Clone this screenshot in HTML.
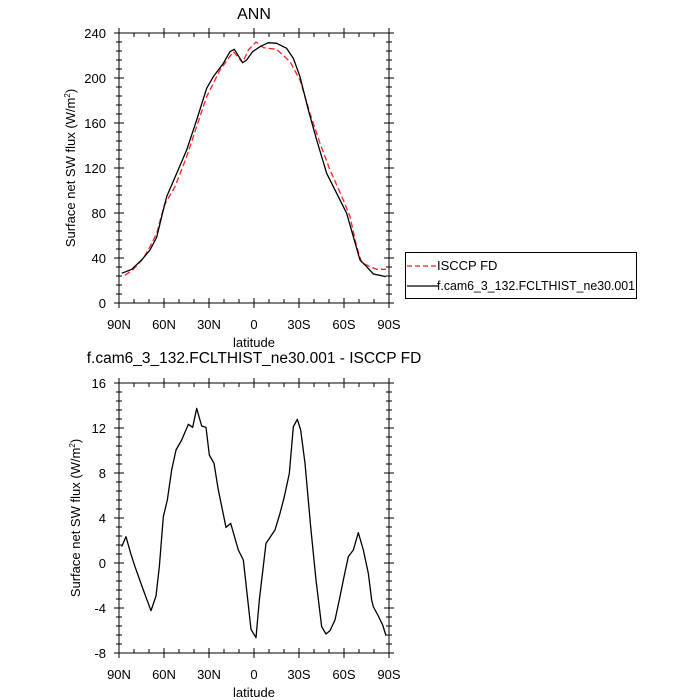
<!DOCTYPE html>
<html><head><meta charset="utf-8"><style>
html,body{margin:0;padding:0;background:#fff}
svg{display:block;font-family:"Liberation Sans",sans-serif}
</style></head><body>
<svg width="700" height="700" viewBox="0 0 700 700" xmlns="http://www.w3.org/2000/svg">
<rect width="700" height="700" fill="#fff"/>
<!-- TOP PLOT -->
<text x="254" y="19" font-size="16" text-anchor="middle">ANN</text>
<g transform="translate(60,0) scale(0.33333)" fill="none" stroke-linejoin="round">
<polyline vector-effect="non-scaling-stroke" stroke="#ff2020" stroke-width="1.3" stroke-dasharray="6,3" points="195,826 220,808 250,775 270,740 290,700 313,615 345,560 380,470 410,380 440,290 480,210 520,155 548,188 565,150 588,126 610,143 650,148 690,185 720,240 750,340 780,430 810,510 850,600 870,650 890,740 905,788 930,800 950,808 978,808"/>
<polyline vector-effect="non-scaling-stroke" stroke="#000" stroke-width="1.3" points="185,820 215,808 245,780 270,750 290,712 305,650 320,590 350,520 380,450 410,360 440,265 460,230 490,190 510,155 523,148 548,188 560,180 578,155 600,140 625,128 650,130 680,145 700,175 720,230 745,330 770,420 800,520 830,580 860,640 880,710 900,780 920,800 940,822 978,830"/>
</g>
<rect x="119" y="33" width="270" height="270" fill="none" stroke="#000" stroke-width="1"/>
<g font-size="13" text-anchor="middle">
<text x="119" y="329">90N</text><text x="164" y="329">60N</text><text x="209" y="329">30N</text><text x="254" y="329">0</text><text x="299" y="329">30S</text><text x="344" y="329">60S</text><text x="389" y="329">90S</text>
<text x="254" y="347">latitude</text>
</g>
<g font-size="13" text-anchor="end">
<text x="106" y="38">240</text><text x="106" y="83">200</text><text x="106" y="128">160</text><text x="106" y="173">120</text><text x="106" y="218">80</text><text x="106" y="263">40</text><text x="106" y="308">0</text>
</g>
<text transform="translate(75,168) rotate(-90)" font-size="13" text-anchor="middle">Surface net SW flux (W/m<tspan font-size="8" dy="-5">2</tspan><tspan dy="5">)</tspan></text>
<!-- legend -->
<rect x="405.5" y="252.5" width="231" height="46" fill="#fff" stroke="#000" stroke-width="1"/>
<line x1="407" y1="266" x2="438" y2="266" stroke="#ff2020" stroke-width="1.3" stroke-dasharray="5,3"/>
<text x="437" y="270" font-size="13">ISCCP FD</text>
<line x1="407" y1="286" x2="438" y2="286" stroke="#000" stroke-width="1.3"/>
<text x="437" y="290" font-size="13" textLength="198" lengthAdjust="spacingAndGlyphs">f.cam6_3_132.FCLTHIST_ne30.001</text>
<!-- BOTTOM PLOT -->
<text x="254" y="363" font-size="15.5" text-anchor="middle">f.cam6_3_132.FCLTHIST_ne30.001 - ISCCP FD</text>
<g transform="translate(60,340) scale(0.33333)" fill="none" stroke-linejoin="round">
<polyline vector-effect="non-scaling-stroke" stroke="#000" stroke-width="1.3" points="185,620 198,590 212,640 225,680 250,750 273,812 288,768 298,680 310,530 322,480 335,390 348,330 365,300 385,253 398,262 410,205 425,258 438,262 448,345 462,370 475,450 498,562 512,550 535,630 550,660 573,868 588,893 598,780 618,610 645,570 660,520 673,470 688,400 700,260 712,238 722,270 735,370 752,560 768,720 785,860 798,882 810,872 825,840 840,770 850,720 865,650 880,630 895,578 910,630 925,700 935,780 940,800 955,828 968,855 978,887"/>
</g>
<rect x="119" y="383" width="270" height="270" fill="none" stroke="#000" stroke-width="1"/>
<g font-size="13" text-anchor="middle">
<text x="119" y="679">90N</text><text x="164" y="679">60N</text><text x="209" y="679">30N</text><text x="254" y="679">0</text><text x="299" y="679">30S</text><text x="344" y="679">60S</text><text x="389" y="679">90S</text>
<text x="254" y="697">latitude</text>
</g>
<g font-size="13" text-anchor="end">
<text x="106" y="388">16</text><text x="106" y="433">12</text><text x="106" y="478">8</text><text x="106" y="523">4</text><text x="106" y="568">0</text><text x="106" y="613">-4</text><text x="106" y="658">-8</text>
</g>
<text transform="translate(80,518) rotate(-90)" font-size="13" text-anchor="middle">Surface net SW flux (W/m<tspan font-size="8" dy="-5">2</tspan><tspan dy="5">)</tspan></text>
<g stroke="#000" stroke-width="1" fill="none">
<path d="
M119,28v10 M164,28v10 M209,28v10 M254,28v10 M299,28v10 M344,28v10 M389,28v10
M119,298v10 M164,298v10 M209,298v10 M254,298v10 M299,298v10 M344,298v10 M389,298v10
M134,33v4 M149,33v4 M179,33v4 M194,33v4 M224,33v4 M239,33v4 M269,33v4 M284,33v4 M314,33v4 M329,33v4 M359,33v4 M374,33v4
M134,299v4 M149,299v4 M179,299v4 M194,299v4 M224,299v4 M239,299v4 M269,299v4 M284,299v4 M314,299v4 M329,299v4 M359,299v4 M374,299v4
M114,33h10 M114,78h10 M114,123h10 M114,168h10 M114,213h10 M114,258h10 M114,303h10
M384,33h10 M384,78h10 M384,123h10 M384,168h10 M384,213h10 M384,258h10 M384,303h10
M119,378v10 M164,378v10 M209,378v10 M254,378v10 M299,378v10 M344,378v10 M389,378v10
M119,648v10 M164,648v10 M209,648v10 M254,648v10 M299,648v10 M344,648v10 M389,648v10
M134,383v4 M149,383v4 M179,383v4 M194,383v4 M224,383v4 M239,383v4 M269,383v4 M284,383v4 M314,383v4 M329,383v4 M359,383v4 M374,383v4
M134,649v4 M149,649v4 M179,649v4 M194,649v4 M224,649v4 M239,649v4 M269,649v4 M284,649v4 M314,649v4 M329,649v4 M359,649v4 M374,649v4
M114,383h10 M114,428h10 M114,473h10 M114,518h10 M114,563h10 M114,608h10 M114,653h10
M384,383h10 M384,428h10 M384,473h10 M384,518h10 M384,563h10 M384,608h10 M384,653h10"/>
</g>
<g stroke="#000" stroke-width="1" id="minorY"></g>
<script>
(function(){var g=document.getElementById('minorY'),s='';
function add(top){for(var i=0;i<=30;i++){if(i%5==0)continue;var y=top+i*9;s+='M116,'+y+'h6 M386,'+y+'h6 ';}}
add(33);add(383);
var p=document.createElementNS('http://www.w3.org/2000/svg','path');p.setAttribute('d',s);g.appendChild(p);})();
</script>
</svg>
</body></html>
